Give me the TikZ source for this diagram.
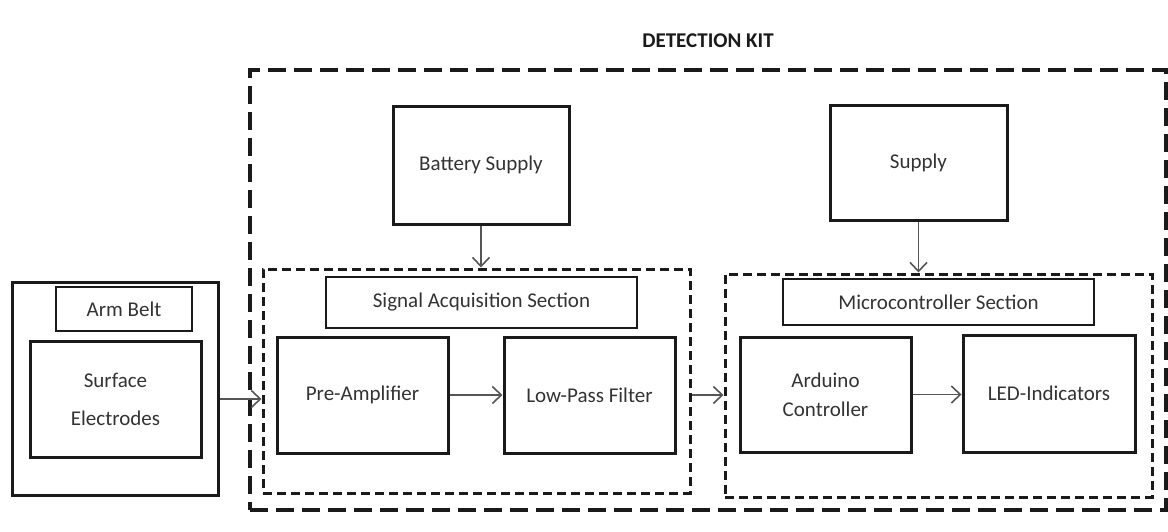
\documentclass[tikz,border=0pt]{standalone}
\usepackage{fontspec}
\setmainfont{Carlito}
\usetikzlibrary{arrows.meta}
\definecolor{txt}{HTML}{333333}
\definecolor{ln}{HTML}{1A1A1A}
\definecolor{arr}{HTML}{555555}
\tikzset{
  solidbox/.style={draw=ln, line width=3pt, inner sep=0pt, text=txt, align=center,
    font=\fontsize{21}{25}\selectfont},
  labelbox/.style={draw=ln, line width=1.5pt, inner sep=0pt, text=txt, align=center,
    font=\fontsize{21}{25}\selectfont},
  bigdash/.style={draw=ln, line width=3.2pt, dash pattern=on 18pt off 8pt, inner sep=0pt},
  smalldash/.style={draw=ln, line width=3pt, dash pattern=on 9pt off 5pt, inner sep=0pt},
  conn/.style={draw=arr, line width=1.6pt, -{Straight Barb[length=9pt,width=17pt,line width=1.6pt]}},
}
\begin{document}
\begin{tikzpicture}[x=1pt,y=-1pt]
\useasboundingbox (0,0) rectangle (1168,531);
% title
\node[text=ln, font=\fontsize{21}{25}\selectfont\bfseries] (title) at (708,41) {DETECTION KIT};
% outer dashed kit
\node[bigdash, minimum width=916pt, minimum height=440pt] (kit) at (708,290) {};
% supplies
\node[solidbox, minimum width=176pt, minimum height=118pt] (battery) at (481,165) {Battery Supply};
\node[solidbox, minimum width=177pt, minimum height=115pt] (supply) at (918.5,162.5) {Supply};
% signal acquisition section
\node[smalldash, minimum width=427pt, minimum height=224pt] (sig) at (476.5,381) {};
\node[labelbox, minimum width=311pt, minimum height=51pt] (siglabel) at (481.5,302.5) {Signal Acquisition Section};
\node[solidbox, minimum width=171pt, minimum height=116pt] (preamp) at (362.5,395) {Pre-Amplifier};
\node[solidbox, minimum width=171pt, minimum height=116pt] (lpf) at (589.5,395) {Low-Pass Filter};
% microcontroller section
\node[smalldash, minimum width=427pt, minimum height=223pt] (micro) at (938.5,385.5) {};
\node[labelbox, minimum width=311pt, minimum height=46pt] (microlabel) at (938.5,302) {Microcontroller Section};
\node[solidbox, minimum width=171pt, minimum height=115pt] (arduino) at (825.5,394.5) {Arduino\\[4pt]Controller};
\node[solidbox, minimum width=172pt, minimum height=117pt] (led) at (1049,393.5) {LED-Indicators};
% arm belt
\node[solidbox, minimum width=206pt, minimum height=213pt] (arm) at (115,388.5) {};
\node[labelbox, minimum width=136pt, minimum height=44pt] (armlabel) at (124,309) {Arm Belt};
\node[solidbox, minimum width=171pt, minimum height=116pt] (elec) at (115.5,399) {Surface\\[13pt]Electrodes};
% connectors
\draw[conn] (arm.east |- elec.center) -- (sig.west |- elec.center);
\draw[conn] (preamp.east) -- (lpf.west);
\draw[conn] (sig.east |- lpf.center) -- (micro.west |- lpf.center);
\draw[conn] (arduino.east) -- (led.west |- arduino.east);
\draw[conn] (battery.south) -- (battery.south |- sig.north);
\draw[conn] (supply.south) -- (supply.south |- micro.north);
\end{tikzpicture}
\end{document}
